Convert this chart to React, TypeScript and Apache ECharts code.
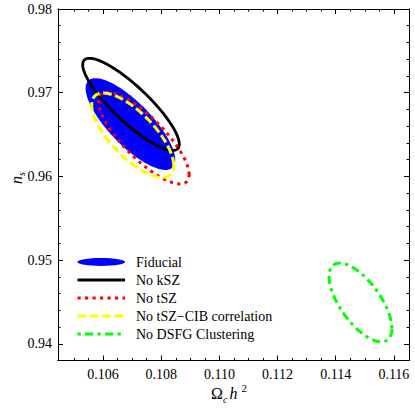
import React, { useEffect, useRef } from "react";
import * as echarts from "echarts";

// ---- data ----
const seriesNames = ["Fiducial", "No kSZ", "No tSZ", "No tSZ\u2212CIB correlation", "No DSFG Clustering"];
const centerX = [0.10694, 0.10696, 0.1074, 0.10702, 0.11485];
const centerY = [0.96625, 0.9686, 0.96458, 0.96492, 0.94494];
const halfWidthX = [0.00154, 0.00166, 0.00156, 0.00141, 0.00108];
const halfHeightY = [0.00548, 0.00551, 0.00548, 0.00504, 0.0047];
const correlation = [-0.78, -0.86, -0.8, -0.72, -0.66];

const xMajorTicks = [0.106, 0.108, 0.11, 0.112, 0.114, 0.116];
const xMinorTicks = [0.105, 0.1055, 0.1065, 0.107, 0.1075, 0.1085, 0.109, 0.1095, 0.1105, 0.111, 0.1115, 0.1125, 0.113, 0.1135, 0.1145, 0.115, 0.1155];
const yMajorTicks = [0.94, 0.95, 0.96, 0.97, 0.98];
const yMinorTicks = [0.942, 0.944, 0.946, 0.948, 0.952, 0.954, 0.956, 0.958, 0.962, 0.964, 0.966, 0.968, 0.972, 0.974, 0.976, 0.978];

const X_MIN = 0.10445;
const X_MAX = 0.11652;
const Y_MIN = 0.938;
const Y_MAX = 0.98;

// ---- styles ----
const FONT = "'Liberation Serif', 'DejaVu Serif', serif";
const styles = [
  { fill: "#0000ff", stroke: "none", lineWidth: 0, lineDash: null as any },
  { fill: "none", stroke: "#000000", lineWidth: 2.8, lineDash: null as any },
  { fill: "none", stroke: "#ff0000", lineWidth: 3, lineDash: [3.2, 4.3] },
  { fill: "none", stroke: "#ffff00", lineWidth: 3, lineDash: [8.7, 3.6] },
  { fill: "none", stroke: "#00ff00", lineWidth: 3, lineDash: [3.3, 4.2, 8.3, 4.2] },
];

function makeEllipseSeries(i: number) {
  const st = styles[i];
  return {
    type: "custom",
    name: seriesNames[i],
    xAxisIndex: 0,
    yAxisIndex: 0,
    clip: true,
    encode: { x: 0, y: 1 },
    data: [[centerX[i], centerY[i], halfWidthX[i], halfHeightY[i], correlation[i]]],
    renderItem: (params: any, api: any) => {
      const cx = api.value(0);
      const cy = api.value(1);
      const dx = api.value(2);
      const dy = api.value(3);
      const r = api.value(4);
      const s = Math.sqrt(1 - r * r);
      const pts: number[][] = [];
      const N = 180;
      for (let k = 0; k < N; k++) {
        const t = (k / N) * Math.PI * 2;
        const x = cx + dx * Math.cos(t);
        const y = cy + dy * (r * Math.cos(t) + s * Math.sin(t));
        pts.push(api.coord([x, y]));
      }
      return {
        type: "polygon",
        shape: { points: pts },
        style: {
          fill: st.fill,
          stroke: st.stroke,
          lineWidth: st.lineWidth,
          lineDash: st.lineDash || undefined,
          lineCap: "butt",
        },
      };
    },
  };
}

function axisX(position: string, ticks: number[], len: number, labels: boolean) {
  return {
    type: "value",
    position,
    min: X_MIN,
    max: X_MAX,
    axisLine: { show: true, onZero: false, lineStyle: { color: "#000", width: 1 } },
    axisTick: { show: true, inside: true, length: len, customValues: ticks, lineStyle: { color: "#000", width: 1 } },
    axisLabel: labels
      ? {
          show: true,
          customValues: xMajorTicks,
          formatter: (v: number) => v.toFixed(3),
          fontFamily: FONT,
          fontSize: 14,
          color: "#000",
          margin: 7,
        }
      : { show: false },
    splitLine: { show: false },
  };
}

function axisY(position: string, ticks: number[], len: number, labels: boolean) {
  return {
    type: "value",
    position,
    min: Y_MIN,
    max: Y_MAX,
    axisLine: { show: true, onZero: false, lineStyle: { color: "#000", width: 1 } },
    axisTick: { show: true, inside: true, length: len, customValues: ticks, lineStyle: { color: "#000", width: 1 } },
    axisLabel: labels
      ? {
          show: true,
          customValues: yMajorTicks,
          formatter: (v: number) => v.toFixed(2),
          fontFamily: FONT,
          fontSize: 14,
          color: "#000",
          margin: 6,
        }
      : { show: false },
    splitLine: { show: false },
  };
}

const legendY = [262, 280, 298, 316, 334];

function legendGraphics() {
  const els: any[] = [];
  for (let i = 0; i < seriesNames.length; i++) {
    const st = styles[i];
    const y = legendY[i];
    if (i === 0) {
      els.push({ type: "ellipse", shape: { cx: 101.2, cy: y, rx: 23.8, ry: 3.9 }, style: { fill: st.fill } });
    } else {
      els.push({
        type: "line",
        shape: { x1: 77.5, y1: y, x2: 125, y2: y },
        style: { stroke: st.stroke, lineWidth: st.lineWidth, lineDash: st.lineDash || undefined, lineCap: "butt" },
      });
    }
    els.push({
      type: "text",
      x: 136,
      y,
      style: { text: seriesNames[i], fontFamily: FONT, fontSize: 14, fill: "#000", verticalAlign: "middle", align: "left" },
    });
  }
  // axis titles
  els.push({
    type: "text",
    x: 229,
    y: 393,
    style: {
      text: "{o|\u03A9}{c|c}{sp1| }{h|h}{sp2| }{s|2}",
      align: "center",
      verticalAlign: "middle",
      rich: {
        o: { fontFamily: FONT, fontSize: 16, fill: "#000", lineHeight: 22, verticalAlign: "middle" },
        c: { fontFamily: FONT, fontStyle: "italic", fontSize: 10, fill: "#000", lineHeight: 22, verticalAlign: "bottom" },
        sp1: { fontFamily: FONT, fontSize: 6, lineHeight: 22, width: 2 },
        h: { fontFamily: FONT, fontStyle: "italic", fontSize: 16, fill: "#000", lineHeight: 22, verticalAlign: "middle" },
        sp2: { fontFamily: FONT, fontSize: 6, lineHeight: 22, width: 4 },
        s: { fontFamily: FONT, fontSize: 11, fill: "#000", lineHeight: 22, verticalAlign: "top" },
      },
    },
  });
  els.push({
    type: "text",
    x: 16,
    y: 178,
    rotation: Math.PI / 2,
    style: {
      text: "{n|n}{s|s}",
      align: "center",
      verticalAlign: "middle",
      rich: {
        n: { fontFamily: FONT, fontStyle: "italic", fontSize: 16, fill: "#000", lineHeight: 20, verticalAlign: "middle" },
        s: { fontFamily: FONT, fontStyle: "italic", fontSize: 10, fill: "#000", lineHeight: 20, verticalAlign: "bottom" },
      },
    },
  });
  return els;
}

export default function App() {
  const ref = useRef<HTMLDivElement>(null);
  useEffect(() => {
    if (!ref.current) return;
    const chart = echarts.init(ref.current, null, { renderer: "svg" });
    chart.setOption({
      animation: false,
      backgroundColor: "#fff",
      grid: { left: 58, top: 9, width: 351, height: 351.5, containLabel: false },
      xAxis: [
        axisX("bottom", xMajorTicks, 5, true),
        axisX("bottom", xMinorTicks, 2.5, false),
        axisX("top", xMajorTicks, 5, false),
        axisX("top", xMinorTicks, 2.5, false),
      ],
      yAxis: [
        axisY("left", yMajorTicks, 5, true),
        axisY("left", yMinorTicks, 2.5, false),
        axisY("right", yMajorTicks, 5, false),
        axisY("right", yMinorTicks, 2.5, false),
      ],
      series: [0, 1, 2, 3, 4].map(makeEllipseSeries),
      graphic: legendGraphics(),
    });
    return () => chart.dispose();
  }, []);
  return <div ref={ref} style={{ position: "absolute", left: 0, top: 0, width: 415, height: 408 }} />;
}
